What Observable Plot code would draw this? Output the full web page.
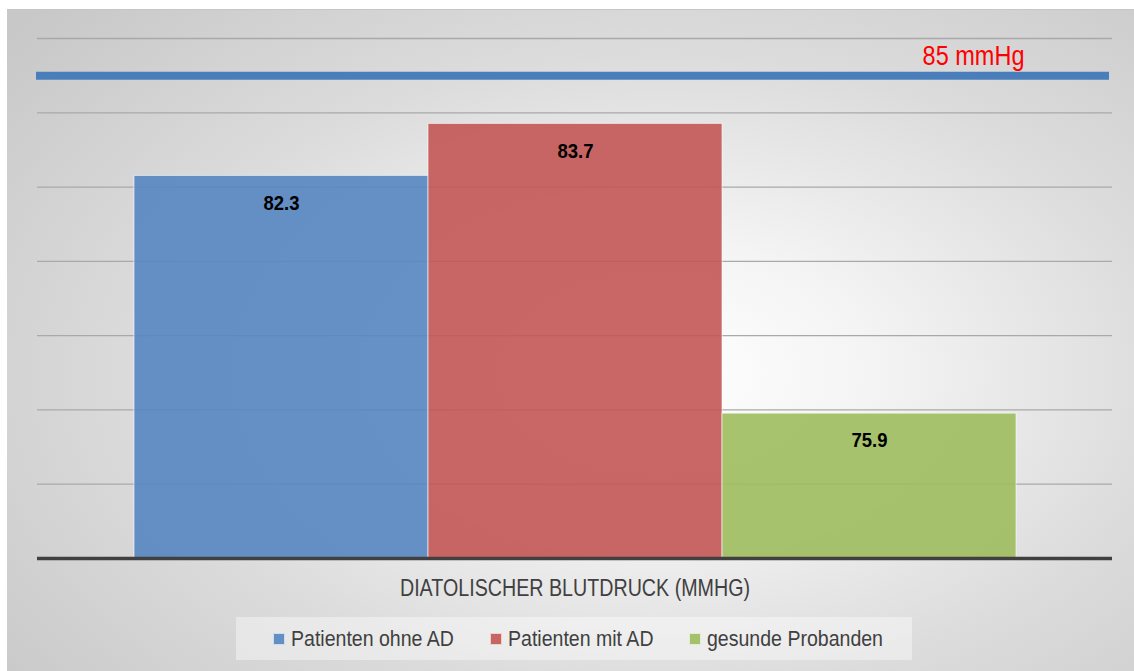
<!DOCTYPE html>
<html>
<head>
<meta charset="utf-8">
<script src="https://cdn.jsdelivr.net/npm/d3@7"></script>
<script src="https://cdn.jsdelivr.net/npm/@observablehq/plot@0.6"></script>
<style>
  html, body { margin: 0; padding: 0; background: #fff; }
  body { width: 1134px; height: 671px; position: relative; overflow: hidden; }
  #panel {
    position: absolute; left: 7px; top: 9px; width: 1127px; height: 662px;
    border-top: 1px solid #c6c6c6; box-sizing: border-box;
    background: radial-gradient(ellipse 75% 80% at 58% 55%, #ffffff 0%, #f4f4f4 25%, #dcdcdc 60%, #c8c8c8 100%);
    font-family: "Liberation Sans", Arial, sans-serif;
  }
  #chart { position: absolute; left: 0; top: -1px; }
  #legend {
    position: absolute; left: 229px; top: 607px; width: 676px; height: 43px;
    background: rgba(255,255,255,0.4);
    display: flex; align-items: center; padding-left: 37px; box-sizing: border-box;
    font-size: 22px; color: #404040;
  }
  .item { display: flex; align-items: center; margin-right: 36px; white-space: nowrap; }
  .swatch { width: 12px; height: 12px; margin-right: 6px; border: 1px solid rgba(255,255,255,0.7); box-sizing: border-box; flex: none; }
  .label { display: inline-block; transform-origin: 0 50%; white-space: nowrap; }
</style>
</head>
<body>
<div id="panel">
  <div id="chart"></div>
  <div id="legend"></div>
</div>
<script>
// Diastolic blood pressure by group (mmHg)
const category = "Diatolischer Blutdruck (mmHg)";
const series = ["Patienten ohne AD", "Patienten mit AD", "gesunde Probanden"];
const values = [82.3, 83.7, 75.9];
const colors = ["#5686c1", "#c35755", "#9dbd5e"];
const threshold = 85;
const thresholdLabel = "85 mmHg";
const yMin = 72;
const yMax = 86;
const gridTicks = [74, 76, 78, 80, 82, 84, 86];

const data = series.map((s, i) => ({series: s, value: values[i]}));
const font = '"Liberation Sans", Arial, sans-serif';

const chart = Plot.plot({
  width: 1127,
  height: 600,
  marginTop: 29,
  marginBottom: 51,
  marginLeft: 30,
  marginRight: 22,
  style: {background: "transparent", fontFamily: font, overflow: "visible"},
  x: {domain: series, paddingInner: 0, paddingOuter: 0.326, axis: null},
  y: {domain: [yMin, yMax], axis: null},
  color: {domain: series, range: colors},
  marks: [
    Plot.ruleY(gridTicks, {stroke: "#a9a9a9", strokeWidth: 1.3}),
    Plot.barY(data, {
      x: "series", y1: () => yMin, y2: "value", fill: "series",
      fillOpacity: 0.9, stroke: "#ffffff", strokeOpacity: 0.6, strokeWidth: 1
    }),
    Plot.ruleY([yMin], {stroke: "#404040", strokeWidth: 3.5}),
    Plot.ruleY([threshold], {stroke: "#4a7ebb", strokeWidth: 8, insetRight: 3, insetLeft: -1}),
    Plot.text([thresholdLabel], {
      y: () => threshold, frameAnchor: "right", textAnchor: "end", lineAnchor: "middle",
      dx: -88, dy: -20, text: d => d, fill: "#ff0000", fontSize: 28
    }),
    Plot.text(data, {
      x: "series", y: "value", dy: 27, lineAnchor: "middle", text: d => d.value.toFixed(1),
      fill: "#000", fontSize: 21, fontWeight: "bold"
    }),
    Plot.text([category], {
      frameAnchor: "bottom", lineAnchor: "middle", dy: 30, text: d => d.toUpperCase(),
      fill: "#404040", fontSize: 24
    })
  ]
});
document.getElementById("chart").append(chart);

// Narrow the lettering horizontally (condensed look), per text layer in mark order
const condense = [0.84, 0.88, 0.82];
d3.select(chart).selectAll('g[aria-label="text"]').each(function(_, i) {
  const s = condense[i];
  d3.select(this).selectAll("text").each(function() {
    const t = this.getAttribute("transform") || "";
    this.setAttribute("transform", `${t} scale(${s},1)`);
  });
});

// Legend entries
const legendScale = 0.888;
const legend = document.getElementById("legend");
series.forEach((s, i) => {
  const item = document.createElement("div");
  item.className = "item";
  const sw = document.createElement("span");
  sw.className = "swatch";
  sw.style.background = colors[i];
  sw.style.opacity = 0.9;
  const box = document.createElement("span");
  const label = document.createElement("span");
  label.className = "label";
  label.textContent = s;
  box.append(label);
  item.append(sw, box);
  legend.append(item);
  const w = label.getBoundingClientRect().width;
  box.style.width = `${w * legendScale}px`;
  box.style.display = "inline-block";
  label.style.transform = `scaleX(${legendScale})`;
});
</script>
</body>
</html>
